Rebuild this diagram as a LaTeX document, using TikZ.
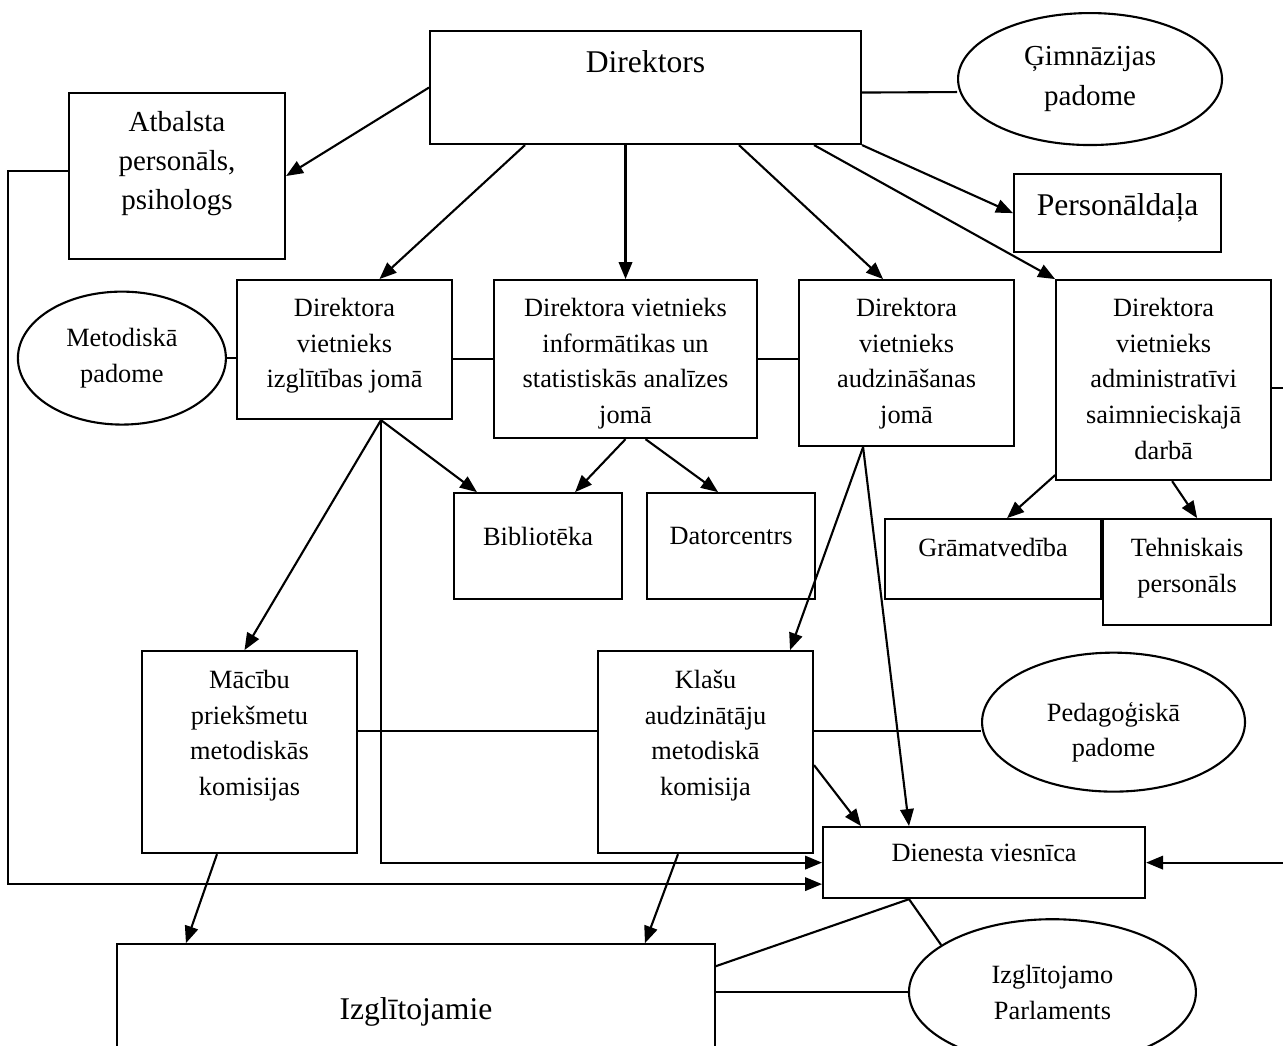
\documentclass[tikz,border=0pt]{standalone}
\usepackage{fontspec}
\setmainfont{Liberation Serif}
\usetikzlibrary{arrows.meta,positioning,shapes.geometric}

\newcommand{\txtsize}{\fontsize{15}{20.3}\selectfont}
\newcommand{\midsize}{\fontsize{16.5}{22.3}\selectfont}
\newcommand{\bigsize}{\fontsize{18}{24}\selectfont}

\begin{document}
\begin{tikzpicture}[
        x=0.02cm, y=-0.02cm,
        node distance=.8cm,
        line width=1.2pt,
        >={Triangle[length=.34cm,width=.27cm]},
        box/.style={draw, inner sep=0pt},
        oval/.style={draw, ellipse, inner sep=0pt, align=center, font=\txtsize},
        txt/.style={align=center, inner sep=0pt, font=\txtsize}
    ]

    \useasboundingbox (0,0) rectangle (1283,1045);

    % Nodes
    \node (dir)[box, anchor=north west, minimum width=8.62cm, minimum height=2.26cm,
        label={[txt, font=\bigsize, below=.39cm]north:Direktors}] at (429,30) {};

    \node (gimn)[oval, font=\midsize, right=1.9cm of dir, yshift=.17cm,
        minimum width=5.28cm, minimum height=2.64cm] {Ģimnāzijas\\ padome};

    \node (atb)[box, left=2.86cm of dir, yshift=-1.77cm, minimum width=4.32cm, minimum height=3.32cm,
        label={[txt, font=\midsize, below=.36cm]north:{Atbalsta\\ personāls,\\ psihologs}}] {};

    \node (pers)[box, below right=.56cm and 3.02cm of dir.south east, minimum width=4.14cm, minimum height=1.56cm,
        label={[txt, font=\bigsize, below=.38cm]north:Personāldaļa}] {};

    \node (izgl)[box, below left=2.68cm and -.48cm of dir.south west, minimum width=4.3cm, minimum height=2.78cm,
        label={[txt, below=.36cm]north:{Direktora\\ vietnieks\\ izglītības jomā}}] {};
    \node (inf)[box, right=of izgl.north east, anchor=north west, minimum width=5.26cm, minimum height=3.16cm,
        label={[txt, below=.36cm]north:{Direktora vietnieks\\ informātikas un\\ statistiskās analīzes\\ jomā}}] {};
    \node (audz)[box, right=of inf.north east, anchor=north west, minimum width=4.3cm, minimum height=3.32cm,
        label={[txt, below=.36cm]north:{Direktora\\ vietnieks\\ audzināšanas\\ jomā}}] {};
    \node (admin)[box, right=of audz.north east, anchor=north west, minimum width=4.3cm, minimum height=4cm,
        label={[txt, below=.36cm]north:{Direktora\\ vietnieks\\ administratīvi\\ saimnieciskajā\\ darbā}}] {};

    \node (metod)[oval, left=.18cm of izgl, yshift=-.17cm,
        minimum width=4.16cm, minimum height=2.66cm] {Metodiskā\\ padome};

    \node (bibl)[box, below=1.44cm of izgl.south east, anchor=north west, minimum width=3.36cm, minimum height=2.12cm,
        label={[txt, below=.68cm]north:Bibliotēka}] {};
    \node (dator)[box, right=.46cm of bibl, minimum width=3.36cm, minimum height=2.12cm,
        label={[txt, below=.68cm]north:Datorcentrs}] {};

    \node (tehn)[box, below=.74cm of admin.south east, anchor=north east, minimum width=3.36cm, minimum height=2.12cm,
        label={[txt, below=.38cm]north:{Tehniskais\\ personāls}}] {};
    \node (gram)[box, left=0cm of tehn.north west, anchor=north east, minimum width=4.32cm, minimum height=1.6cm,
        label={[txt, below=.38cm]north:Grāmatvedība}] {};

    \node (mac)[box, below=4.6cm of izgl.south west, anchor=north west, xshift=-1.9cm,
        minimum width=4.3cm, minimum height=4.04cm,
        label={[txt, below=.38cm]north:{Mācību\\ priekšmetu\\ metodiskās\\ komisijas}}] {};
    \node (klas)[box, right=4.78cm of mac, minimum width=4.3cm, minimum height=4.04cm,
        label={[txt, below=.38cm]north:{Klašu\\ audzinātāju\\ metodiskā\\ komisija}}] {};

    \node (ped)[oval, right=3.34cm of klas, yshift=.6cm,
        minimum width=5.26cm, minimum height=2.78cm,
        label={[txt, yshift=-.2cm]center:{Pedagoģiskā\\ padome}}] {};

    \node (dien)[box, below right=3.52cm and .16cm of klas.north east, minimum width=6.44cm, minimum height=1.42cm,
        label={[txt, below=.34cm]north:Dienesta viesnīca}] {};

    \node (izgj)[box, below=1.78cm of mac.south west, anchor=north west, xshift=-.5cm,
        minimum width=11.96cm, minimum height=2.46cm,
        label={[txt, font=\bigsize, below=1.06cm]north:Izglītojamie}] {};

    \node (parl)[oval, right=3.84cm of izgj, yshift=.27cm,
        minimum width=5.74cm, minimum height=2.92cm] {Izglītojamo\\ Parlaments};

    % Edges
    \draw[->] (dir.west) -- (atb.east);
    \draw[->] ([xshift=1.92cm]dir.south west) -- ([xshift=.7cm]izgl.north);
    \draw[->] (dir.south -| inf.north) -- (inf.north);
    \draw[->] ([xshift=1.87cm]dir.south) -- ([xshift=-.47cm]audz.north);
    \draw[->] ([xshift=-.96cm]dir.south east) -- (admin.north west);
    \draw[->] (dir.south east) -- (pers.west);
    \draw ([yshift=-.1cm]dir.east) -- ([yshift=-.26cm]gimn.west);

    \draw[->] ([yshift=.1cm]atb.west) -- ++(-1.2cm,0) |- ([yshift=-.43cm]dien.west);

    \draw (metod.east) -- (metod.east -| izgl.west);
    \draw (izgl.east |- inf.west) -- (inf.west);
    \draw (inf.east) -- (inf.east -| audz.west);
    \draw[->] ([yshift=-.16cm]admin.east) -- ++(.36cm,0) |- (dien.east);

    \coordinate (izb) at ([xshift=.73cm]izgl.south);
    \draw[->] (izb) -- ([xshift=-.1cm]mac.north);
    \draw[->] (izb) -- ([xshift=.48cm]bibl.north west);
    \draw[->] (izb) |- (dien.west);

    \draw[->] (inf.south) -- ([xshift=-.96cm]bibl.north east);
    \draw[->] ([xshift=.4cm]inf.south) -- ([xshift=-.26cm]dator.north);

    \coordinate (auz) at ([xshift=-.87cm]audz.south);
    \draw[->] (auz) -- ([xshift=-.48cm]klas.north east);
    \draw[->] (auz) -- ([xshift=1.74cm]dien.north west);
    \draw[->] ([yshift=-.26cm]klas.east) -- ([xshift=.78cm]dien.north west);

    \draw[->] ([yshift=.12cm]admin.south west) -- ([xshift=.28cm]gram.north);
    \draw[->] ([xshift=.17cm]admin.south) -- ([xshift=.2cm]tehn.north);

    \draw ([yshift=.42cm]mac.east) -- ([yshift=.42cm]klas.west);
    \draw ([yshift=.42cm]klas.east) -- ([yshift=.42cm]klas.east -| ped.west);

    \draw[->] ([xshift=-.65cm]mac.south) -- ([xshift=1.4cm]izgj.north west);
    \draw[->] ([xshift=-.55cm]klas.south) -- ([xshift=-1.42cm]izgj.north east);

    \coordinate (dnb) at ([xshift=1.74cm]dien.south west);
    \draw ([yshift=-.46cm]izgj.north east) -- (dnb);
    \draw (dnb) -- (parl.157);
    \draw (izgj.east |- parl.west) -- (parl.west);

\end{tikzpicture}
\end{document}
